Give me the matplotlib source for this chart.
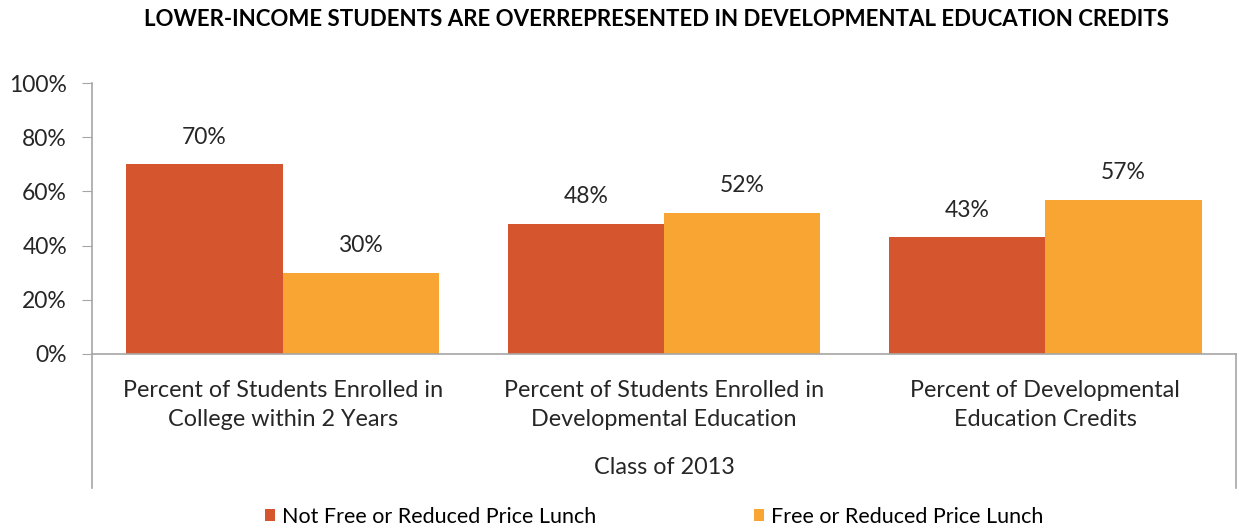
import matplotlib
matplotlib.use("Agg")
import matplotlib.pyplot as plt
import numpy as np

plt.rcParams["font.family"] = ["Lato", "DejaVu Sans"]

TITLE      = "LOWER-INCOME STUDENTS ARE OVERREPRESENTED IN DEVELOPMENTAL EDUCATION CREDITS"
categories = ["Percent of Students Enrolled in\nCollege within 2 Years",
              "Percent of Students Enrolled in\nDevelopmental Education",
              "Percent of Developmental\nEducation Credits"]
group_label = "Class of 2013"
series_names = ["Not Free or Reduced Price Lunch", "Free or Reduced Price Lunch"]
not_frl = [70, 48, 43]
frl     = [30, 52, 57]
yticks  = [0, 20, 40, 60, 80, 100]

C_DARK  = "#D5552F"
C_LIGHT = "#F9A533"
GREY    = "#A6A6A6"
TXT     = "#262626"
FS      = 16.5

fig = plt.figure(figsize=(12.39, 5.29), dpi=100)
ax = fig.add_axes([92/1239, 1 - 354/529, (1236 - 92)/1239, 271/529])

x = np.arange(len(categories)) + 0.5
w = 0.41
b1 = ax.bar(x - w/2, not_frl, w, color=C_DARK, label=series_names[0])
b2 = ax.bar(x + w/2, frl, w, color=C_LIGHT, label=series_names[1])

for bars in (b1, b2):
    for r in bars:
        ax.text(r.get_x() + r.get_width()/2, r.get_height() + 10,
                f"{r.get_height():.0f}%", ha="center", va="center",
                fontsize=FS, color=TXT)

ax.set_xlim(0, len(categories))
ax.set_ylim(0, 100)
ax.set_yticks(yticks)
ax.set_yticklabels([f"{t}%" for t in yticks], fontsize=FS, color=TXT)
ax.tick_params(axis="y", length=7, color=GREY, pad=11)
ax.set_xticks([])

for s in ("top", "right"):
    ax.spines[s].set_visible(False)
for s in ("left", "bottom"):
    ax.spines[s].set_color(GREY)
    ax.spines[s].set_linewidth(1.2)

# multi-level category axis
low = -(488 - 354) / 271
for xv in (0, len(categories)):
    ax.plot([xv, xv], [0, low * 100], color=GREY, lw=1.2, clip_on=False)

for xi, lab in zip(x, categories):
    ax.text(xi, -(405 - 354) / 271 * 100, lab, ha="center", va="center",
            fontsize=16.8, color=TXT, linespacing=1.5)
ax.text(len(categories)/2, -(467 - 354) / 271 * 100, group_label,
        ha="center", va="center", fontsize=16.8, color=TXT)

fig.text(657/1239, 1 - 19/529, TITLE, ha="center", va="center",
         fontsize=16, fontweight="bold", color="black")

fig.legend(handles=[b1, b2], loc="center", bbox_to_anchor=(0.528, 1 - 517/529),
           ncol=2, frameon=False, fontsize=15.5, handlelength=0.47,
           handleheight=0.47, handletextpad=0.33, columnspacing=7.3)

fig.savefig("out.png", dpi=100)
